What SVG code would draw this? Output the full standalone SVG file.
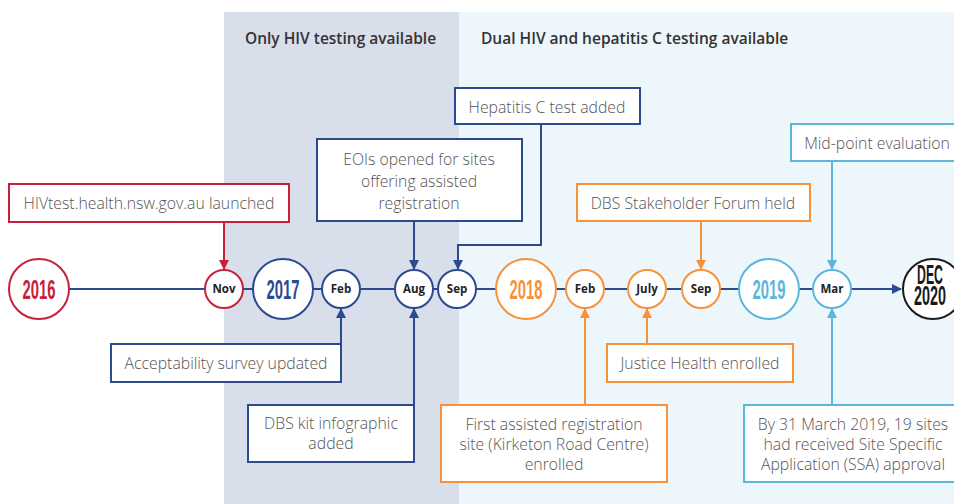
<svg xmlns="http://www.w3.org/2000/svg" width="954" height="504" viewBox="0 0 954 504">
<defs>
<style>
.bx{fill:#fff;stroke-width:2}
.t{font-family:"Open Sans","Liberation Sans",sans-serif;font-size:15.8px;font-weight:300;fill:#555;text-anchor:middle}
.m{font-family:"Open Sans","Liberation Sans",sans-serif;font-size:11.5px;font-weight:700;fill:#222;text-anchor:middle}
.y{font-family:"Liberation Sans",sans-serif;font-size:28px;font-weight:700;text-anchor:middle}
.h{font-family:"Open Sans","Liberation Sans",sans-serif;font-size:15.5px;font-weight:600;fill:#333}
.c{fill:#fff;stroke-width:2}
.red{stroke:#C8203A}.blu{stroke:#2B4A90}.org{stroke:#F7923A}.lb{stroke:#5BB7DB}.blk{stroke:#1a1a1a}
.ln{fill:none;stroke-width:2}
</style>
<marker id="aBlu" markerWidth="10" markerHeight="10" refX="9" refY="5" orient="auto" markerUnits="userSpaceOnUse"><path d="M0,0 L10,5 L0,10 z" fill="#2B4A90"/></marker>
<marker id="aRed" markerWidth="10" markerHeight="10" refX="9" refY="5" orient="auto" markerUnits="userSpaceOnUse"><path d="M0,0 L10,5 L0,10 z" fill="#C8203A"/></marker>
<marker id="aOrg" markerWidth="10" markerHeight="10" refX="9" refY="5" orient="auto" markerUnits="userSpaceOnUse"><path d="M0,0 L10,5 L0,10 z" fill="#F7923A"/></marker>
<marker id="aLb" markerWidth="10" markerHeight="10" refX="9" refY="5" orient="auto" markerUnits="userSpaceOnUse"><path d="M0,0 L10,5 L0,10 z" fill="#5BB7DB"/></marker>
</defs>
<rect width="954" height="504" fill="#fff"/>
<rect x="224" y="12" width="235" height="492" fill="#D9DEEB"/>
<rect x="459" y="12" width="495" height="492" fill="#EDF6FA"/>
<text class="h" x="245" y="44">Only HIV testing available</text>
<text class="h" x="481" y="44">Dual HIV and hepatitis C testing available</text>

<g id="connectors">
<line class="ln blu" x1="69" y1="289" x2="901" y2="289" stroke-width="1.8" marker-end="url(#aBlu)"/>
<line class="ln red" x1="224" y1="222" x2="224" y2="269" marker-end="url(#aRed)"/>
<line class="ln blu" x1="414" y1="221" x2="414" y2="269" marker-end="url(#aBlu)"/>
<polyline class="ln blu" points="541,124 541,245 458,245 458,269" marker-end="url(#aBlu)"/>
<line class="ln org" x1="701" y1="221" x2="701" y2="269" marker-end="url(#aOrg)"/>
<line class="ln lb" x1="832" y1="161" x2="832" y2="269" marker-end="url(#aLb)"/>
<line class="ln blu" x1="341" y1="344" x2="341" y2="309" marker-end="url(#aBlu)"/>
<line class="ln blu" x1="414" y1="405" x2="414" y2="309" marker-end="url(#aBlu)"/>
<line class="ln org" x1="585" y1="405" x2="585" y2="309" marker-end="url(#aOrg)"/>
<line class="ln org" x1="647" y1="344" x2="647" y2="309" marker-end="url(#aOrg)"/>
<line class="ln lb" x1="832" y1="405" x2="832" y2="309" marker-end="url(#aLb)"/>
</g>

<g id="y2016"><circle class="c red" cx="39" cy="289" r="30"/><text class="y" x="39" y="299" fill="#C8203A" textLength="33" lengthAdjust="spacingAndGlyphs">2016</text></g>
<g id="nov"><circle class="c red" cx="224" cy="289" r="19"/><text class="m" x="224" y="293">Nov</text></g>
<g id="y2017"><circle class="c blu" cx="283" cy="289" r="30"/><text class="y" x="283" y="299" fill="#2B4A90" textLength="33" lengthAdjust="spacingAndGlyphs">2017</text></g>
<g id="feb17"><circle class="c blu" cx="341" cy="289" r="19"/><text class="m" x="341" y="293">Feb</text></g>
<g id="aug17"><circle class="c blu" cx="414" cy="289" r="19"/><text class="m" x="414" y="293">Aug</text></g>
<g id="sep17"><circle class="c blu" cx="457" cy="289" r="19"/><text class="m" x="457" y="293">Sep</text></g>
<g id="y2018"><circle class="c org" cx="526" cy="289" r="30"/><text class="y" x="526" y="299" fill="#F7923A" textLength="33" lengthAdjust="spacingAndGlyphs">2018</text></g>
<g id="feb18"><circle class="c org" cx="585" cy="289" r="19"/><text class="m" x="585" y="293">Feb</text></g>
<g id="jul18"><circle class="c org" cx="647" cy="289" r="19"/><text class="m" x="647" y="293">July</text></g>
<g id="sep18"><circle class="c org" cx="701" cy="289" r="19"/><text class="m" x="701" y="293">Sep</text></g>
<g id="y2019"><circle class="c lb" cx="769" cy="289" r="30"/><text class="y" x="769" y="299" fill="#5BB7DB" textLength="33" lengthAdjust="spacingAndGlyphs">2019</text></g>
<g id="mar19"><circle class="c lb" cx="832" cy="289" r="19"/><text class="m" x="832" y="293">Mar</text></g>
<g id="dec2020"><circle class="c blk" cx="933" cy="289" r="30"/>
<text class="y" x="930" y="284" fill="#1a1a1a" font-size="18" textLength="26" lengthAdjust="spacingAndGlyphs">DEC</text>
<text class="y" x="930" y="305" fill="#1a1a1a" font-size="18" textLength="32" lengthAdjust="spacingAndGlyphs">2020</text></g>

<g id="b-hivtest"><rect class="bx red" x="9" y="184" width="280" height="38"/><text class="t" x="149" y="208.5">HIVtest.health.nsw.gov.au launched</text></g>
<g id="b-eoi"><rect class="bx blu" x="317" y="139" width="205" height="82"/>
<text class="t" x="419" y="164.5">EOIs opened for sites</text><text class="t" x="419" y="186.5">offering assisted</text><text class="t" x="419" y="208.5">registration</text></g>
<g id="b-hepc"><rect class="bx blu" x="455" y="88" width="185" height="36"/><text class="t" x="547" y="112.5">Hepatitis C test added</text></g>
<g id="b-forum"><rect class="bx org" x="577" y="184" width="233" height="37"/><text class="t" x="693" y="208.5">DBS Stakeholder Forum held</text></g>
<g id="b-mid"><rect class="bx lb" x="791" y="124" width="175" height="37"/><text class="t" x="877" y="148.5">Mid-point evaluation</text></g>
<g id="b-accept"><rect class="bx blu" x="111" y="344" width="230" height="38"/><text class="t" x="226" y="368.5">Acceptability survey updated</text></g>
<g id="b-dbskit"><rect class="bx blu" x="248" y="405" width="166" height="57"/><text class="t" x="331" y="428.5">DBS kit infographic</text><text class="t" x="331" y="448.5">added</text></g>
<g id="b-first"><rect class="bx org" x="441" y="405" width="226" height="77"/>
<text class="t" x="554" y="429.5">First assisted registration</text><text class="t" x="554" y="449.5">site (Kirketon Road Centre)</text><text class="t" x="554" y="469.5">enrolled</text></g>
<g id="b-justice"><rect class="bx org" x="607" y="344" width="186" height="38"/><text class="t" x="700" y="368.5">Justice Health enrolled</text></g>
<g id="b-ssa"><rect class="bx lb" x="744" y="405" width="220" height="77"/>
<text class="t" x="853" y="429.5">By 31 March 2019, 19 sites</text><text class="t" x="853" y="449.5">had received Site Specific</text><text class="t" x="853" y="469.5">Application (SSA) approval</text></g>
</svg>
